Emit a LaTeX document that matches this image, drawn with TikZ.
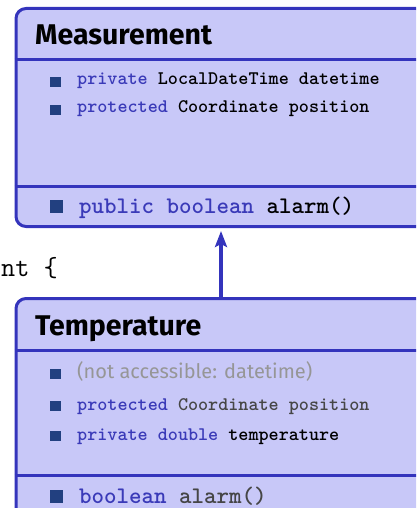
\documentclass[tikz,border=0pt]{standalone}
\usepackage{fontspec}
\newfontfamily\fira{Fira Sans}
\usetikzlibrary{arrows.meta}
\definecolor{boxfill}{RGB}{200,200,248}
\definecolor{boxline}{RGB}{52,52,188}
\definecolor{kw}{RGB}{58,58,184}
\definecolor{bul}{RGB}{34,64,128}
\definecolor{dim}{RGB}{70,70,70}
\definecolor{faded}{RGB}{150,150,150}
\tikzset{
  classbox/.style={draw=boxline, fill=boxfill, line width=3pt, rounded corners=10pt,
    rectangle, anchor=north, inner sep=0pt},
  divider/.style={draw=boxline, line width=3pt},
  title/.style={anchor=base west, inner sep=0pt, font=\fira\bfseries\fontsize{28.5}{34}\selectfont},
  attr/.style={anchor=base west, inner sep=0pt, font=\ttfamily\bfseries\fontsize{19.2}{23}\selectfont},
  meth/.style={anchor=base west, inner sep=0pt, font=\ttfamily\bfseries\fontsize{23.8}{28}\selectfont},
  note/.style={anchor=base west, inner sep=0pt, text=faded, font=\fira\fontsize{20}{24}\selectfont},
  code/.style={anchor=base east, inner sep=0pt, font=\ttfamily\fontsize{27.5}{32}\selectfont},
  bsmall/.style={fill=bul},
  inherit/.style={draw=boxline, line width=3.5pt, -{Stealth[length=16pt,width=12pt,inset=3pt]}, shorten >=3pt}
}
\begin{document}
\begin{tikzpicture}[x=1pt,y=-1pt]
\useasboundingbox (0,0) rectangle (416,508);
\clip (0,0) rectangle (416,508);

% superclass box
\node[classbox, minimum width=410pt, minimum height=218pt] (meas) at (221,7) {};
\draw[divider] (meas.west |- 0,60) -- (meas.east |- 0,60);
\draw[divider] (meas.west |- 0,186) -- (meas.east |- 0,186);
\node[title] (mtitle) at (35,45) {Measurement};
\fill[bsmall] (50,77) rectangle (61,87);
\node[attr] (ma1) at (77,85) {\textcolor{kw}{private} LocalDateTime datetime};
\fill[bsmall] (50,105) rectangle (61,115);
\node[attr] (ma2) at (77,113) {\textcolor{kw}{protected} Coordinate position};
\fill[bsmall] (50,200) rectangle (63,213);
\node[meth] (mm1) at (79,213) {\textcolor{kw}{public boolean} alarm()};

% fragment of the source line between the boxes
\node[code] (src) at (58,276) {nt \{};

% subclass box
\node[classbox, minimum width=410pt, minimum height=260pt] (temp) at (221,297) {};
\draw[divider] (temp.west |- 0,350) -- (temp.east |- 0,350);
\draw[divider] (temp.west |- 0,475) -- (temp.east |- 0,475);
\node[title] (ttitle) at (35,335) {Temperature};
\fill[bsmall] (50,369) rectangle (61,379);
\node[note] (ta1) at (77,378) {(not accessible: datetime)};
\fill[bsmall] (50,401) rectangle (61,411);
\node[attr] (ta2) at (77,410) {\textcolor{kw}{protected} \textcolor{dim}{Coordinate position}};
\fill[bsmall] (50,431) rectangle (61,441);
\node[attr] (ta3) at (77,440) {\textcolor{kw}{private double} temperature};
\fill[bsmall] (50,490) rectangle (63,503);
\node[meth] (tm1) at (79,503) {\textcolor{kw}{boolean} \textcolor{dim}{alarm()}};

% inheritance arrow
\draw[inherit] (temp.north) -- (meas.south);
\end{tikzpicture}
\end{document}
